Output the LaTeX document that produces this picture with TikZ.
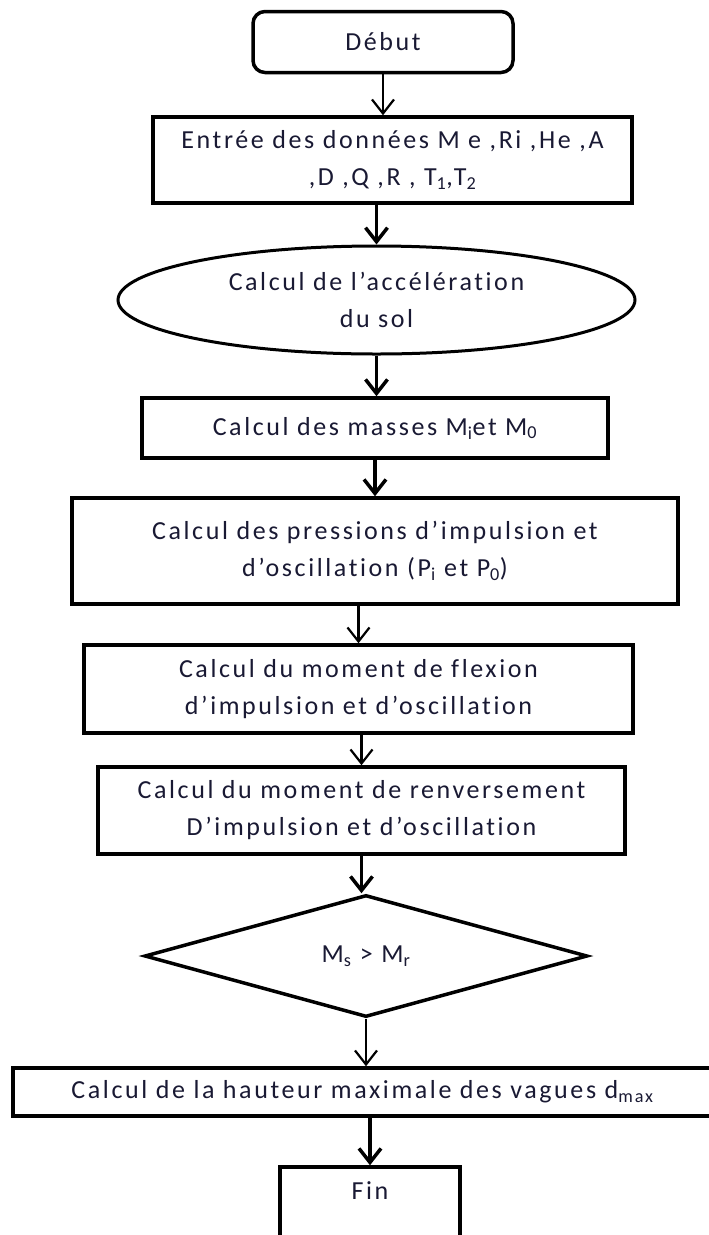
\documentclass[tikz,border=0pt]{standalone}
\usepackage{fontspec}
\setmainfont{Carlito}[LetterSpace=10, Ligatures=NoCommon]
\usepackage{xcolor}
\usetikzlibrary{shapes.geometric, arrows.meta, positioning}
\definecolor{inkblue}{rgb}{0.1,0.1,0.2}

\begin{document}
\begin{tikzpicture}[x=1pt, y=-1pt,
    every node/.style={font=\fontsize{26}{37}\selectfont, text=inkblue, align=center},
    procbox/.style={draw, rectangle, line width=3.5pt, inner sep=0pt},
    flow/.style={line width=2.2pt, -{Straight Barb[length=14pt, width=22pt]}},
    flowthick/.style={flow, line width=3.5pt}]
  \useasboundingbox (0,0) rectangle (709,1235);
  \clip (0,0) rectangle (709,1235);
  \node[procbox, rounded corners=12pt, minimum width=260pt, minimum height=61pt] (debut) at (383, 42) {Début};
  \node[procbox, minimum width=479pt, minimum height=86pt] (entree) at (392.5, 160) {Entrée des données M e ,Ri ,He ,A\\,D ,Q ,R , T\textsubscript{1},T\textsubscript{2}};
  \node[draw, ellipse, line width=3pt, inner sep=0pt, minimum width=517pt, minimum height=108pt] (sol) at (376.5, 300) {Calcul de l’accélération\\du sol};
  \node[procbox, minimum width=466pt, minimum height=60pt] (masses) at (375, 428) {Calcul des masses M\textsubscript{i}et M\textsubscript{0}};
  \node[procbox, minimum width=606pt, minimum height=106pt] (pressions) at (375, 551) {Calcul des pressions d’impulsion et\\d’oscillation (P\textsubscript{i} et P\textsubscript{0})};
  \node[procbox, minimum width=549pt, minimum height=88pt] (flexion) at (358.5, 689) {Calcul du moment de flexion\\d’impulsion et d’oscillation};
  \node[procbox, minimum width=527pt, minimum height=87pt] (renvers) at (361.5, 810.5) {Calcul du moment de renversement\\D’impulsion et d’oscillation};
  \node[draw, diamond, aspect=3.6, line width=3.5pt, inner sep=0pt, minimum width=443pt, minimum height=122pt] (test) at (366, 956) {M\textsubscript{s} > M\textsubscript{r}};
  \node[procbox, minimum width=699pt, minimum height=48pt] (dmax) at (362.5, 1092) {Calcul de la hauteur maximale des vagues d\textsubscript{max}};
  \node[procbox, minimum width=180pt, minimum height=90pt, label={[anchor=north, inner sep=0pt, yshift=-16pt]north:Fin}] (fin) at (370, 1212) {};
  % connectors
  \draw[flow] (debut.south) -- (debut.south |- entree.north);
  \draw[flowthick] (sol.north |- entree.south) -- (sol.north);
  \draw[flowthick] (sol.south) -- (sol.south |- masses.north);
  \draw[flowthick] (masses.south) -- (masses.south |- pressions.north);
  \draw[flow] (flexion.north |- pressions.south) -- (flexion.north);
  \draw[flow] (renvers.north |- flexion.south) -- (renvers.north);
  \draw[flowthick] (renvers.south) -- (renvers.south |- test.north);
  \draw[flow] (test.south) -- (test.south |- dmax.north);
  \draw[flowthick] (fin.north |- dmax.south) -- (fin.north);
\end{tikzpicture}
\end{document}
